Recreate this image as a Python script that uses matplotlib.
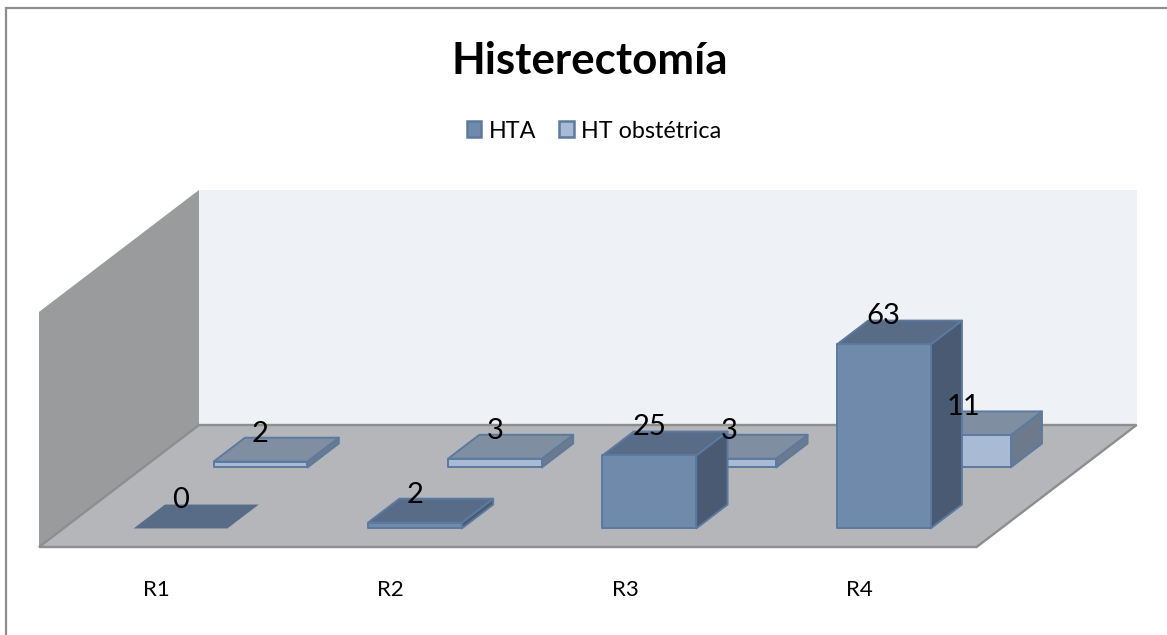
import matplotlib
matplotlib.use("Agg")
import matplotlib.pyplot as plt
from matplotlib.patches import Polygon, Patch

plt.rcParams['font.family'] = ['Lato', 'DejaVu Sans']

title = "Histerectomía"
categories = ["R1", "R2", "R3", "R4"]
series_names = ["HTA", "HT obstétrica"]
hta = [0, 2, 25, 63]
ht_obstetrica = [2, 3, 3, 11]
value_max = 80.5

C_FRONT = ["#708AAC", "#A9BAD5"]
C_TOP = ["#586C87", "#808EA2"]
C_SIDE = ["#4A5A72", "#6C7A8C"]
C_EDGE = "#5C7A9F"

# oblique projection: (category position, series depth, value) -> pixel
X0, Y0 = 39.0, 547.0
CAT_W = 234.4
DX, DY = 80.0, 61.0
V_PX = 2.92


def proj(x, d, v=0.0):
    return (X0 + CAT_W * x + DX * d, Y0 - DY * d - V_PX * v)


fig = plt.figure(figsize=(11.67, 6.35), dpi=100, facecolor="white")
ax = fig.add_axes([0, 0, 1, 1])
ax.set_xlim(0, 1167)
ax.set_ylim(635, 0)
ax.axis("off")

# chart frame: only the left and top edges fall inside the picture
ax.plot([6, 6, 1167], [635, 8, 8], color="#8E8E8E", lw=1.6, zorder=0,
        solid_joinstyle="miter")

n = len(categories)
# walls and floor
ax.add_patch(Polygon([proj(0, 2), proj(n, 2), proj(n, 2, value_max), proj(0, 2, value_max)],
                     fc="#EEF1F6", ec="none", zorder=1))
ax.add_patch(Polygon([proj(0, 0), proj(0, 2), proj(0, 2, value_max), proj(0, 0, value_max)],
                     fc="#9A9B9D", ec="none", zorder=1))
ax.add_patch(Polygon([proj(0, 0), proj(n, 0), proj(n, 2), proj(0, 2)],
                     fc="#B5B6B9", ec="#8E8E8E", lw=1.7, zorder=2))

BAR_W = 0.4
BAR_D = 0.392
GAP_D = (1 - BAR_D) / 2
labels = []
for s, values in reversed(list(enumerate([hta, ht_obstetrica]))):
    for i, v in enumerate(values):
        x0 = i + (1 - BAR_W) / 2
        x1 = x0 + BAR_W
        d0 = s + GAP_D
        d1 = d0 + BAR_D
        z = 3 + (1 - s) * 2 + i * 0.1
        if v == 0:
            ax.add_patch(Polygon([proj(x0, d0), proj(x1, d0), proj(x1, d1), proj(x0, d1)],
                                 fc=C_TOP[s], ec="none", zorder=z))
        else:
            kw = dict(ec=C_EDGE, lw=1.4, zorder=z, joinstyle="round")
            ax.add_patch(Polygon([proj(x1, d0), proj(x1, d1), proj(x1, d1, v), proj(x1, d0, v)],
                                 fc=C_SIDE[s], **kw))
            ax.add_patch(Polygon([proj(x0, d0, v), proj(x1, d0, v), proj(x1, d1, v), proj(x0, d1, v)],
                                 fc=C_TOP[s], **kw))
            ax.add_patch(Polygon([proj(x0, d0), proj(x1, d0), proj(x1, d0, v), proj(x0, d0, v)],
                                 fc=C_FRONT[s], **kw))
        labels.append((proj((x0 + x1) / 2, d0, v), v))

for (px, py), v in labels:
    ax.text(px, py - 28, str(v), ha="center", va="center", fontsize=21,
            color="black", zorder=20)

for i, c in enumerate(categories):
    px, _ = proj(i + 0.5, 0)
    ax.text(px, 590, c, ha="center", va="center", fontsize=16, color="black", zorder=20)

ax.text(589.5, 61, title, ha="center", va="center", fontsize=31.6, fontweight="bold",
        color="black", zorder=20)

handles = [Patch(facecolor=C_FRONT[k], edgecolor=C_EDGE, lw=1.8) for k in range(2)]
fig.legend(handles, series_names, loc="center", bbox_to_anchor=(594 / 1167, 1 - 131 / 635),
           ncol=2, frameon=False, fontsize=16.8, handlelength=0.62, handleheight=0.66,
           handletextpad=0.3, columnspacing=1.0, borderpad=0)

fig.savefig("out.png", dpi=100)
